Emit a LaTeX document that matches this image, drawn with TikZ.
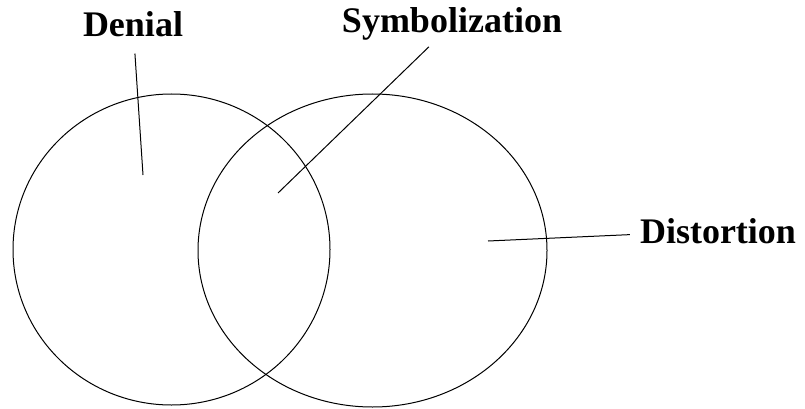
\documentclass[tikz,border=0pt]{standalone}
\usepackage{fontspec}
\setmainfont{Liberation Serif}
\usetikzlibrary{calc}

\tikzset{
  lbl/.style={font=\fontsize{36}{40}\selectfont\bfseries, inner sep=3pt, anchor=base},
  leader/.style={line width=1pt},
  venn/.style={line width=1pt}
}

\begin{document}
\begin{tikzpicture}[x=1pt,y=-1pt]
\useasboundingbox (0,0) rectangle (805,409);

\coordinate (L) at (171.5,249.5);
\coordinate (R) at (372.5,250.5);
\coordinate (Dpt) at (143,175);
\coordinate (Spt) at (278,193);
\coordinate (Tpt) at (488,241);

\draw[venn] (L) ellipse [x radius=158.5, y radius=155.5];
\draw[venn] (R) ellipse [x radius=174.5, y radius=156.5];

\node[lbl] (denial) at (133,37) {Denial};
\node[lbl] (symbol) at (452,33) {Symbolization};
\node[lbl] (distort) at (718,243) {Distortion};

\draw[leader, shorten >=13pt] (Dpt) -- (denial);
\draw[leader, shorten >=4pt] (Spt) -- (symbol);
\draw[leader, shorten >=7pt] (Tpt) -- (distort);
\end{tikzpicture}
\end{document}
